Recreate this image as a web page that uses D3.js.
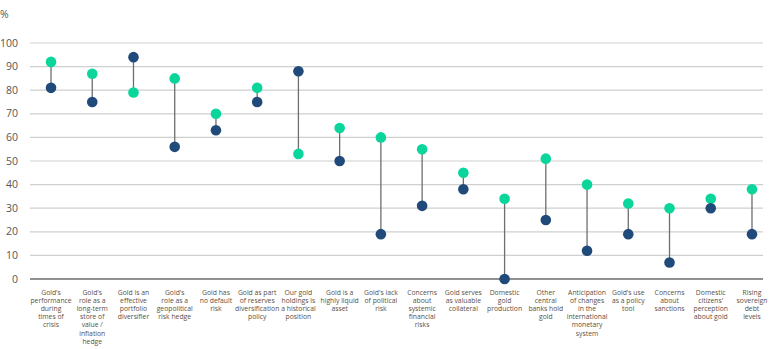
<!DOCTYPE html>
<html>
<head>
<meta charset="utf-8">
<script src="https://cdn.jsdelivr.net/npm/d3@7"></script>
<style>
  body { margin: 0; background: #fff; }
  svg text { font-family: "Open Sans", sans-serif; }
</style>
</head>
<body>
<div id="chart"></div>
<script>
// categories, each one an array of label lines
var categories = [
    ["Gold's", "performance", "during", "times of", "crisis"],
    ["Gold's", "role as a", "long-term", "store of", "value /", "inflation", "hedge"],
    ["Gold is an", "effective", "portfolio", "diversifier"],
    ["Gold's", "role as a", "geopolitical", "risk hedge"],
    ["Gold has", "no default", "risk"],
    ["Gold as part", "of reserves", "diversification", "policy"],
    ["Our gold", "holdings is", "a historical", "position"],
    ["Gold is a", "highly liquid", "asset"],
    ["Gold's lack", "of political", "risk"],
    ["Concerns", "about", "systemic", "financial", "risks"],
    ["Gold serves", "as valuable", "collateral"],
    ["Domestic", "gold", "production"],
    ["Other", "central", "banks hold", "gold"],
    ["Anticipation", "of changes", "in the", "international", "monetary", "system"],
    ["Gold's use", "as a policy", "tool"],
    ["Concerns", "about", "sanctions"],
    ["Domestic", "citizens'", "perception", "about gold"],
    ["Rising", "sovereign", "debt", "levels"]
]
var greenValues = [92, 87, 79, 85, 70, 81, 53, 64, 60, 55, 45, 34, 51, 40, 32, 30, 34, 38]
var navyValues  = [81, 75, 94, 56, 63, 75, 88, 50, 19, 31, 38, 0, 25, 12, 19, 7, 30, 19]
var yTicks = [0, 10, 20, 30, 40, 50, 60, 70, 80, 90, 100]

var W = 780, H = 349
var m = {left: 30, top: 43, bottom: 70}
var gridRight = 763

var svg = d3.select("#chart").append("svg")
    .attr("width", W)
    .attr("height", H)

var x = d3.scaleBand()
    .domain(d3.range(categories.length))
    .range([30.4, 772.6])

var y = d3.scaleLinear()
    .domain([0, 100])
    .range([H - m.bottom, m.top])

// gridlines
svg.append("g")
    .selectAll("line")
    .data(yTicks)
    .enter()
    .append("line")
    .attr("x1", m.left)
    .attr("x2", gridRight)
    .attr("y1", function(d){ return y(d) })
    .attr("y2", function(d){ return y(d) })
    .attr("stroke", function(d){ return d === 0 ? "#6b6b6b" : "#cfcfcf" })
    .attr("stroke-width", function(d){ return d === 0 ? 1.6 : 1.2 })

// y tick labels
svg.append("g")
    .selectAll("text")
    .data(yTicks)
    .enter()
    .append("text")
    .attr("x", 18)
    .attr("y", function(d){ return y(d) })
    .attr("dy", "0.35em")
    .attr("text-anchor", "end")
    .attr("font-size", 10.5)
    .attr("fill", "#555")
    .text(function(d){ return d })

svg.append("text")
    .attr("x", 0)
    .attr("y", 18)
    .attr("font-size", 10.5)
    .attr("fill", "#555")
    .text("%")

var cx = function(i){ return x(i) + x.bandwidth() / 2 }

// connector lines
svg.append("g")
    .selectAll("line")
    .data(categories)
    .enter()
    .append("line")
    .attr("x1", function(d, i){ return cx(i) })
    .attr("x2", function(d, i){ return cx(i) })
    .attr("y1", function(d, i){ return y(greenValues[i]) })
    .attr("y2", function(d, i){ return y(navyValues[i]) })
    .attr("stroke", "#6e6e6e")
    .attr("stroke-width", 1.3)

// dots
var drawDots = function(values, colour){
    svg.append("g")
        .selectAll("circle")
        .data(values)
        .enter()
        .append("circle")
        .attr("cx", function(d, i){ return cx(i) })
        .attr("cy", function(d){ return y(d) })
        .attr("r", 5.3)
        .attr("fill", colour)
}
drawDots(greenValues, "#0ad69c")
drawDots(navyValues, "#204a7a")

// category labels
var labels = svg.append("g")
    .selectAll("text")
    .data(categories)
    .enter()
    .append("text")
    .attr("x", function(d, i){ return cx(i) })
    .attr("y", 295)
    .attr("text-anchor", "middle")
    .attr("font-size", 6.8)
    .attr("fill", "#5b5046")

labels.selectAll("tspan")
    .data(function(d, i){ return d.map(function(t){ return {t: t, i: i} }) })
    .enter()
    .append("tspan")
    .attr("x", function(d){ return cx(d.i) })
    .attr("dy", function(d, j){ return j === 0 ? 0 : 8.1 })
    .text(function(d){ return d.t })
</script>
</body>
</html>
